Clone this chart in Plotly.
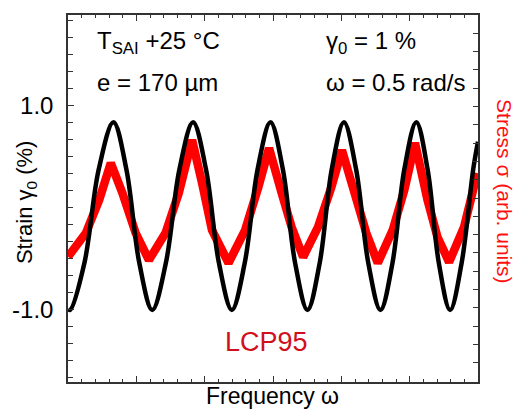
import plotly.graph_objects as go

# ---- data ----
# Strain (black), left axis, % ; x in arbitrary frequency/time units (axis 0..6)
strain_x = [0.0, 0.03, 0.24, 0.45, 0.665, 0.854, 1.044, 1.233, 1.432, 1.631, 1.83,
            2.019, 2.209, 2.398, 2.586, 2.775, 2.963, 3.144, 3.324, 3.505, 3.683,
            3.860, 4.038, 4.216, 4.395, 4.573, 4.748, 4.922, 5.097, 5.262, 5.427,
            5.592, 5.76, 5.93, 6.0]
strain_y = [-0.99, -1.00, -0.54, 0.38, 0.84, 0.38, -0.54, -1.00, -0.54, 0.38, 0.84,
            0.38, -0.54, -1.00, -0.54, 0.38, 0.84, 0.38, -0.54, -1.00, -0.54,
            0.38, 0.84, 0.38, -0.54, -1.00, -0.54, 0.38, 0.84, 0.38, -0.54,
            -1.00, -0.54, 0.38, 0.65]

# Stress (red), right axis, arbitrary units
stress_x = [0.0, 0.262, 0.456, 0.626, 0.797, 0.990, 1.184, 1.427, 1.621, 1.816,
            1.962, 2.107, 2.349, 2.592, 2.786, 2.942, 3.127, 3.272, 3.441, 3.660,
            3.855, 4.009, 4.194, 4.365, 4.533, 4.752, 4.922, 5.078, 5.261, 5.407,
            5.577, 5.796, 5.990]
stress_y = [6.79, 8.09, 9.89, 11.91, 10.27, 8.09, 6.61, 8.09, 10.27, 13.17,
            10.82, 8.25, 6.45, 8.25, 10.60, 12.73, 10.27, 8.42, 6.78, 8.42,
            10.60, 12.62, 10.27, 8.09, 6.45, 8.25, 10.44, 13.01, 9.89, 7.87,
            6.50, 8.42, 11.37]

strain_ticks = [-1, 1]
strain_ticktext = ["-1.0", "1.0"]

FONT = "Liberation Sans, Arial, sans-serif"
AX = "#333333"

fig = go.Figure()
fig.add_trace(go.Scatter(x=stress_x, y=stress_y, mode="lines", yaxis="y",
                         line=dict(color="#ff0000", width=8.5), showlegend=False,
                         hoverinfo="skip"))
fig.add_trace(go.Scatter(x=strain_x, y=strain_y, mode="lines", yaxis="y2",
                         line=dict(color="black", width=4.5, shape="spline", smoothing=1),
                         showlegend=False, hoverinfo="skip"))

fig.update_layout(
    width=518, height=411,
    margin=dict(l=66, r=40, t=15, b=29),
    paper_bgcolor="white", plot_bgcolor="white",
    font=dict(family=FONT, size=24, color="black"),
    xaxis=dict(range=[0, 6], tick0=0, dtick=1, ticks="inside", ticklen=6, tickwidth=1.2,
               tickcolor=AX, showticklabels=False, showgrid=False, zeroline=False,
               showline=True, linecolor=AX, linewidth=1.5, mirror="ticks",
               minor=dict(dtick=0.2, tick0=0, ticks="inside", ticklen=3.5, tickcolor=AX,
                          tickwidth=1.2, showgrid=False)),
    yaxis=dict(side="right", range=[-0.05, 20], tick0=0, dtick=1, ticks="inside",
               ticklen=5, tickwidth=1.2, tickcolor=AX, showticklabels=False,
               showgrid=False, zeroline=False, showline=True, linecolor=AX,
               linewidth=1.5),
    yaxis2=dict(side="left", overlaying="y", range=[-1.706, 1.892],
                tickvals=strain_ticks, ticktext=strain_ticktext, ticks="inside",
                ticklen=6, tickwidth=1.2, tickcolor=AX, ticklabelstandoff=8,
                tickfont=dict(size=24), showgrid=False, zeroline=False,
                showline=True, linecolor=AX, linewidth=1.5,
                minor=dict(dtick=1/6, tick0=-1, ticks="inside", ticklen=5,
                           tickcolor=AX, tickwidth=1.2, showgrid=False)),
)

ann = [
    dict(text="T<sub>SAI</sub> +25 °C", x=0.0655, y=0.924, xanchor="left"),
    dict(text="e = 170 µm", x=0.0655, y=0.817, xanchor="left"),
    dict(text="γ<sub>0</sub> = 1 %", x=0.624, y=0.924, xanchor="left"),
    dict(text="ω = 0.5 rad/s", x=0.624, y=0.817, xanchor="left"),
]
for a in ann:
    fig.add_annotation(xref="paper", yref="paper", yanchor="middle", showarrow=False,
                       font=dict(size=24, color="black"), **a)

fig.add_annotation(text="LCP95", xref="paper", yref="paper", x=0.485, y=0.109,
                   xanchor="center", yanchor="middle", showarrow=False,
                   font=dict(size=27, color="#d0101c"))
fig.add_annotation(text="Frequency ω", xref="paper", yref="paper", x=0.499, y=-0.039,
                   xanchor="center", yanchor="middle", showarrow=False,
                   font=dict(size=23, color="black"))
fig.add_annotation(text="Strain γ<sub>0</sub> (%)", xref="paper", yref="paper",
                   x=-0.102, y=0.488, xanchor="center", yanchor="middle",
                   textangle=-90, showarrow=False, font=dict(size=22, color="black"))
fig.add_annotation(text="Stress σ (arb. units)", xref="paper", yref="paper",
                   x=1.066, y=0.520, xanchor="center", yanchor="middle",
                   textangle=90, showarrow=False, font=dict(size=21, color="#ff1010"))

fig.write_html("out.html", config={"displayModeBar": False},
               post_script="document.body.style.margin='0';document.body.style.overflow='hidden';")
